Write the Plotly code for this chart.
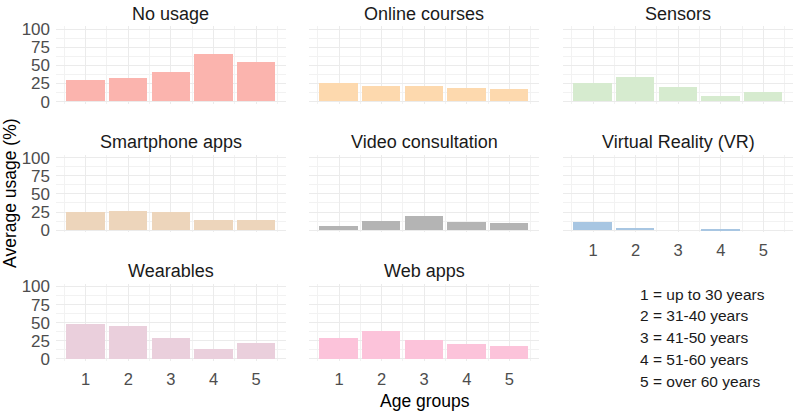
import plotly.graph_objects as go

W, H = 794, 412

categories = ["No usage", "Online courses", "Sensors", "Smartphone apps",
              "Video consultation", "Virtual Reality (VR)", "Wearables", "Web apps"]
age_groups = [1, 2, 3, 4, 5]
no_usage = [29.3, 32.0, 41.0, 65.3, 54.7]
online_courses = [25.3, 20.9, 21.3, 18.7, 17.3]
sensors = [25.3, 34.2, 20.0, 8.0, 12.9]
smartphone_apps = [25.2, 27.3, 25.2, 13.9, 14.4]
video_consultation = [6.7, 13.5, 20.2, 12.1, 10.0]
virtual_reality = [11.3, 3.2, 0.0, 1.0, 0.0]
wearables = [48.2, 45.5, 29.3, 14.9, 21.9]
web_apps = [29.7, 39.5, 26.7, 21.4, 18.4]
series = [no_usage, online_courses, sensors, smartphone_apps,
          video_consultation, virtual_reality, wearables, web_apps]
colors = ["#FBB4AE", "#FDD9AE", "#D6EBCF", "#EDD5BB",
          "#B4B4B4", "#A8C6E2", "#EACFDC", "#FCC3DA"]
y_ticks = [0, 25, 50, 75, 100]
legend_lines = ["1 = up to 30 years", "2 = 31-40 years", "3 = 41-50 years",
                "4 = 51-60 years", "5 = over 60 years"]

FONT = "Liberation Sans, Arial, sans-serif"

# panel geometry in pixels
col_px = [(56.0, 285.7), (309.4, 539.0), (563.4, 793.0)]
row_zero_px = [99.0, 232.0, 365.3]
PX_PER_UNIT = 0.75
Y_RANGE = [-3, 104]

def fx(px):
    return px / W

def fy(px):
    return 1 - px / H

fig = go.Figure()
layout = dict(
    width=W, height=H,
    margin=dict(l=0, r=0, t=0, b=0),
    paper_bgcolor="white", plot_bgcolor="white",
    showlegend=False,
    font=dict(family=FONT),
    bargap=0,
)
annotations = []

for i, (cat, vals, col) in enumerate(zip(categories, series, colors)):
    r, c = divmod(i, 3)
    n = i + 1
    xa = "xaxis" if n == 1 else f"xaxis{n}"
    ya = "yaxis" if n == 1 else f"yaxis{n}"
    xref = "x" if n == 1 else f"x{n}"
    yref = "y" if n == 1 else f"y{n}"
    zero = row_zero_px[r]
    top_px = zero - (Y_RANGE[1]) * PX_PER_UNIT
    bot_px = zero - (Y_RANGE[0]) * PX_PER_UNIT
    fig.add_trace(go.Bar(x=age_groups, y=vals, width=0.9, marker=dict(color=col, line=dict(width=0)),
                         xaxis=xref, yaxis=yref, hoverinfo="skip"))
    show_x = (r == 2) or (i == 5)
    show_y = (c == 0)
    layout[xa] = dict(
        domain=[fx(col_px[c][0]), fx(col_px[c][1])],
        anchor=yref, range=[0.305, 5.695],
        tickvals=age_groups, ticktext=[str(a) for a in age_groups] if show_x else None,
        showticklabels=show_x, ticks="",
        showgrid=True, gridcolor="#EBEBEB", gridwidth=1,
        minor=dict(tick0=0.5, dtick=1, showgrid=True, gridcolor="#F2F2F2", gridwidth=0.6),
        zeroline=False, showline=False,
        tickfont=dict(size=16.5, color="#4D4D4D", family=FONT),
        ticklabelstandoff=6,
        fixedrange=True,
    )
    layout[ya] = dict(
        domain=[fy(bot_px), fy(top_px)],
        anchor=xref, range=Y_RANGE,
        tickvals=y_ticks, showticklabels=show_y, ticks="",
        showgrid=True, gridcolor="#EBEBEB", gridwidth=1,
        minor=dict(tick0=12.5, dtick=25, showgrid=True, gridcolor="#F2F2F2", gridwidth=0.6),
        zeroline=False, showline=False,
        tickfont=dict(size=17, color="#4D4D4D", family=FONT),
        ticklabelstandoff=5,
        fixedrange=True,
    )
    annotations.append(dict(
        text=cat, xref="paper", yref="paper",
        x=fx((col_px[c][0] + col_px[c][1]) / 2), y=fy(zero - 90.7),
        xanchor="center", yanchor="middle", showarrow=False,
        font=dict(size=18, color="#1A1A1A", family=FONT),
    ))

annotations.append(dict(text="Age groups", xref="paper", yref="paper",
                        x=fx(424.5), y=fy(401.5), xanchor="center", yanchor="middle",
                        yshift=-7,
                        showarrow=False, font=dict(size=17.5, color="black", family=FONT)))
annotations.append(dict(text="Average usage (%)", xref="paper", yref="paper",
                        x=fx(10.5), y=fy(194), xanchor="center", yanchor="middle", textangle=-90,
                        showarrow=False, font=dict(size=17.5, color="black", family=FONT)))
for k, line in enumerate(legend_lines):
    annotations.append(dict(text=line, xref="paper", yref="paper",
                            x=fx(638), y=fy(298.3 + 22.5 * k), xanchor="left", yanchor="middle",
                            showarrow=False, font=dict(size=15.5, color="#1A1A1A", family=FONT)))

layout["annotations"] = annotations
fig.update_layout(**layout)
fig.write_html("out.html")
